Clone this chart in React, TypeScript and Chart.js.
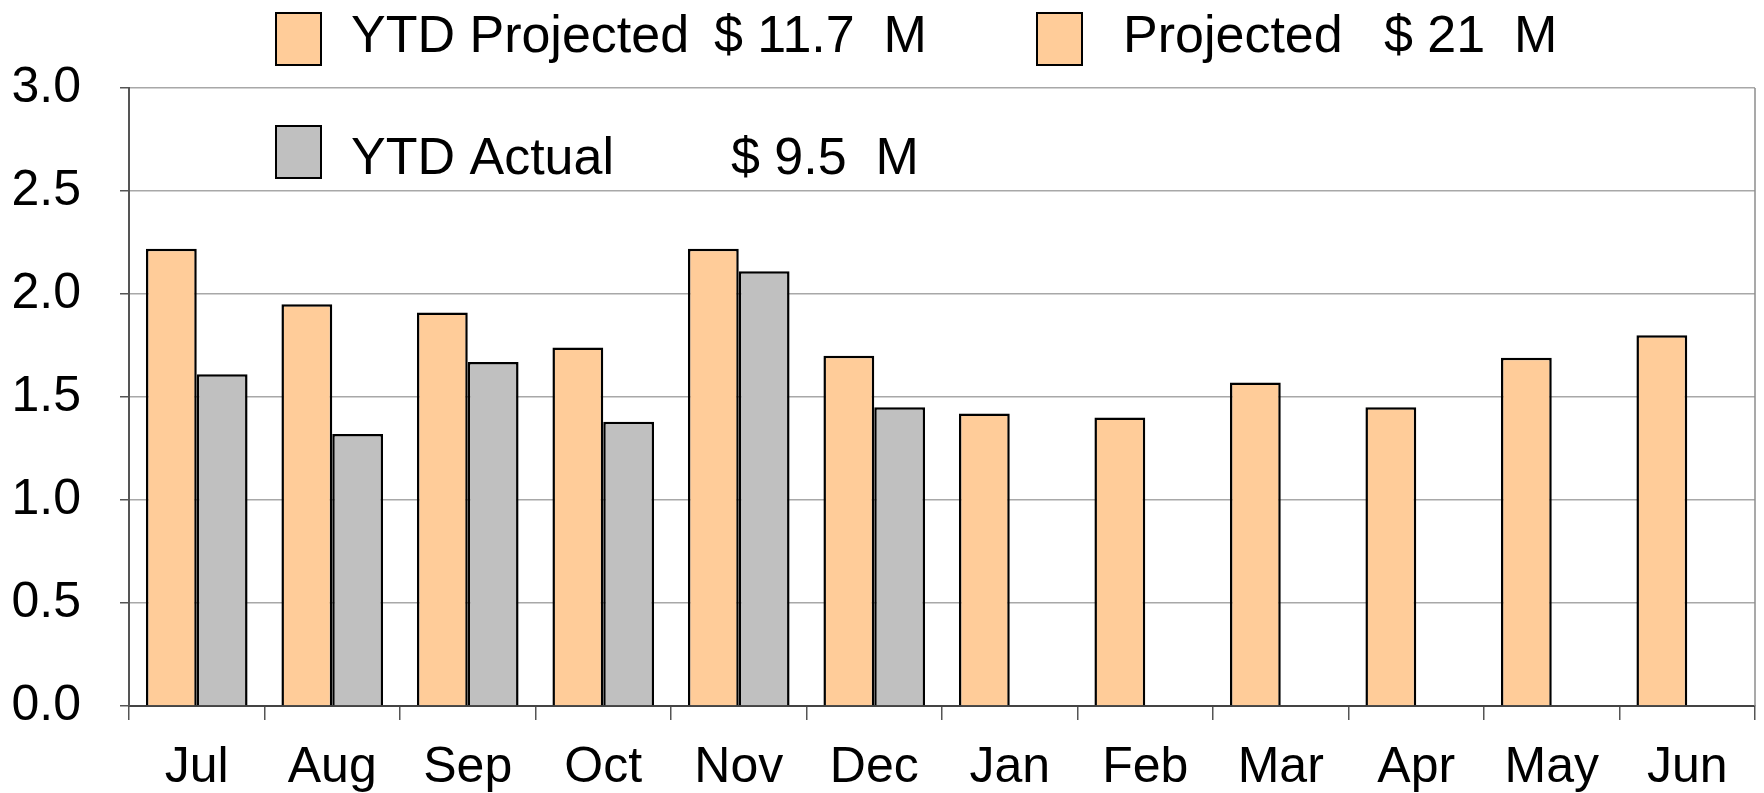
import React, { useEffect, useRef } from "react";
import { Chart, registerables } from "chart.js";

Chart.register(...registerables);

const months = ["Jul", "Aug", "Sep", "Oct", "Nov", "Dec", "Jan", "Feb", "Mar", "Apr", "May", "Jun"];
const projected = [2.22, 1.95, 1.91, 1.74, 2.22, 1.7, 1.42, 1.4, 1.57, 1.45, 1.69, 1.8];
const actual: (number | null)[] = [1.61, 1.32, 1.67, 1.38, 2.11, 1.45, null, null, null, null, null, null];
const yMin = 0;
const yMax = 3;
const yStep = 0.5;
const legendNames = ["YTD Projected", "Projected", "YTD Actual"];
const legendValues = ["$ 11.7  M", "$ 21  M", "$ 9.5  M"];

const ORANGE = "#FFCC99";
const GRAY = "#C0C0C0";
const FONT = '"Liberation Sans", Arial, sans-serif';

const legendPlugin = {
  id: "customLegend",
  afterDraw(chart: any) {
    const ctx = chart.ctx;
    const { right, bottom } = chart.chartArea;
    ctx.save();
    ctx.strokeStyle = "#8c8c8c";
    ctx.lineWidth = 1.5;
    ctx.beginPath();
    ctx.moveTo(right, chart.chartArea.top);
    ctx.lineTo(right, bottom);
    ctx.stroke();

    const items = [
      { box: [276, 13, 45, 52], color: ORANGE, name: legendNames[0], nx: 351, val: legendValues[0], vx: 714, cy: 38 },
      { box: [1037, 13, 45, 52], color: ORANGE, name: legendNames[1], nx: 1123, val: legendValues[1], vx: 1384, cy: 38 },
      { box: [276, 126, 45, 52], color: GRAY, name: legendNames[2], nx: 351, val: legendValues[2], vx: 731, cy: 160 },
    ];
    ctx.font = `52px ${FONT}`;
    ctx.textBaseline = "middle";
    ctx.textAlign = "left";
    for (const it of items) {
      const [x, y, w, h] = it.box;
      ctx.fillStyle = it.color;
      ctx.fillRect(x, y, w, h);
      ctx.strokeStyle = "#000";
      ctx.lineWidth = 2;
      ctx.strokeRect(x, y, w, h);
      ctx.fillStyle = "#000";
      ctx.fillText(it.name, it.nx, it.cy);
      ctx.fillText(it.val, it.vx, it.cy);
    }
    ctx.restore();
  },
};

export default function App() {
  const ref = useRef<HTMLCanvasElement | null>(null);
  useEffect(() => {
    if (!ref.current) return;
    const chart = new Chart(ref.current, {
      type: "bar",
      data: {
        labels: months,
        datasets: [
          {
            label: "Projected",
            data: projected,
            backgroundColor: ORANGE,
            borderColor: "#000",
            borderWidth: 2.5,
            categoryPercentage: 0.75,
            barPercentage: 1.0,
          },
          {
            label: "YTD Actual",
            data: actual,
            backgroundColor: GRAY,
            borderColor: "#000",
            borderWidth: 2.5,
            categoryPercentage: 0.75,
            barPercentage: 1.0,
          },
        ],
      },
      options: {
        animation: false,
        responsive: false,
        maintainAspectRatio: false,
        layout: { padding: { top: 88, right: 9, left: 0, bottom: 0 } },
        plugins: { legend: { display: false }, tooltip: { enabled: false } },
        scales: {
          x: {
            grid: {
              display: true,
              drawOnChartArea: false,
              drawTicks: true,
              tickLength: 14,
              offset: true,
              color: "#555",
              lineWidth: 1.5,
            },
            border: { display: true, color: "#444", width: 2 },
            ticks: {
              color: "#000",
              font: { family: FONT, size: 50 },
              padding: 18,
              maxRotation: 0,
              autoSkip: false,
            },
            afterFit(axis: any) {
              axis.height = 87;
            },
          },
          y: {
            min: yMin,
            max: yMax,
            grid: {
              color: "#a8a8a8",
              lineWidth: 1.5,
              tickLength: 9,
              tickColor: "#555",
            },
            border: { display: true, color: "#555", width: 2 },
            ticks: {
              stepSize: yStep,
              color: "#000",
              font: { family: FONT, size: 50 },
              padding: 39,
              callback: (v: any) => Number(v).toFixed(1),
            },
            afterFit(axis: any) {
              axis.width = 129;
            },
          },
        },
      },
      plugins: [legendPlugin],
    });
    return () => chart.destroy();
  }, []);
  return (
    <div style={{ position: "fixed", left: 0, top: 0, width: 1764, height: 793, background: "#fff" }}>
      <canvas ref={ref} width={1764} height={793} style={{ display: "block" }} />
    </div>
  );
}
